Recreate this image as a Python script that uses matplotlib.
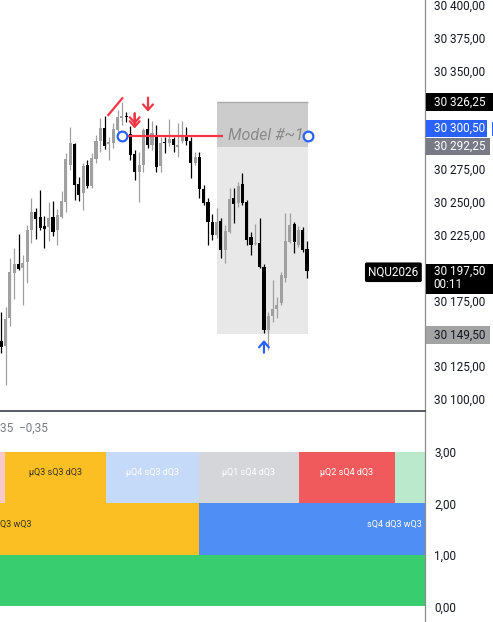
import matplotlib
matplotlib.use("Agg")
import matplotlib.pyplot as plt
import numpy as np
from matplotlib.patches import Rectangle
from matplotlib.transforms import blended_transform_factory

plt.rcParams['font.family'] = ['Roboto', 'DejaVu Sans']

# ---------------- data ----------------
opens = [30144.25, 30140.5, 30162, 30196.25, 30202.75, 30200, 30204, 30228.75, 30242.5, 30238.75,
         30231.75, 30230.75, 30238.75, 30228.75, 30238.75, 30249.75, 30278.25, 30294.25, 30263.75, 30256.5,
         30278.25, 30262.25, 30282.75, 30296.75, 30306.25, 30294, 30295.25, 30304.75, 30313.75, 30315,
         30301.75, 30286.25, 30272.75, 30278.25, 30305.5, 30293.5, 30301, 30277.5, 30295.5, 30295,
         30297.75, 30292.25, 30296.75, 30300, 30296.75, 30279.5, 30284, 30259.75, 30250.25, 30235,
         30225, 30235.5, 30213.5, 30227.5, 30252.75, 30249.5, 30263.75, 30249.75, 30223.5, 30218.25,
         30218.5, 30200.75, 30152.5, 30163.5, 30168.5, 30172.75, 30192, 30219.75, 30233, 30217.25,
         30228.75, 30214]
highs = [30166.5, 30170.25, 30207, 30215, 30225.5, 30209.75, 30232.5, 30252.75, 30245.75, 30259.25,
         30239.25, 30249.75, 30250.75, 30244.5, 30258.5, 30287, 30307.25, 30295, 30269.25, 30279.5,
         30282, 30287, 30301, 30313.75, 30315.5, 30299.75, 30310, 30320, 30326.25, 30318.75,
         30308, 30289.5, 30288, 30306.25, 30313.75, 30312, 30308.75, 30299.75, 30299.75, 30313,
         30299.75, 30310.25, 30311.75, 30307, 30299.5, 30288.25, 30288.25, 30263, 30253, 30240.75,
         30245.25, 30237.75, 30232.5, 30260.5, 30260.5, 30265.25, 30271.75, 30251.5, 30227.5, 30233,
         30238, 30202.75, 30166.5, 30190.5, 30178, 30196.75, 30241.5, 30241.5, 30234.75, 30231.75,
         30231.25, 30220.25]
lows = [30134.75, 30110.75, 30155.75, 30176, 30198.25, 30171.5, 30188, 30218.5, 30221.5, 30228.75,
        30215.25, 30220.25, 30224, 30217.25, 30237.75, 30242.5, 30274.25, 30251.5, 30251, 30244,
        30260.75, 30260.75, 30279.5, 30288.25, 30290, 30282, 30291, 30298.5, 30308.75, 30311.25,
        30282, 30266.75, 30250.25, 30273, 30291, 30289.5, 30273, 30273, 30287, 30292.75,
        30288.25, 30284, 30294.75, 30293.5, 30268, 30278.25, 30252.75, 30247.75, 30217.25, 30221,
        30222.5, 30207, 30203.25, 30226.5, 30233.75, 30246.5, 30247.75, 30217.25, 30209.75, 30217.25,
        30199.75, 30150, 30137.25, 30158.75, 30161.5, 30171.5, 30189.25, 30218.75, 30211, 30215.75,
        30212, 30192.25]
closes = [30139.75, 30161, 30197, 30202.75, 30199, 30203.75, 30228.75, 30242.5, 30237, 30230.5,
          30229.5, 30237.5, 30227.5, 30240, 30250.75, 30282.75, 30294.75, 30263, 30255.25, 30277.5,
          30262.25, 30283.25, 30296.75, 30306.25, 30292.75, 30296, 30305.25, 30314.5, 30315.5, 30314.5,
          30285.75, 30273, 30278.25, 30304.75, 30293.5, 30302.25, 30277, 30294.75, 30295, 30297.75,
          30293.5, 30293, 30300, 30296.75, 30279.5, 30284, 30259.75, 30249.5, 30235, 30225,
          30235, 30213.5, 30228.25, 30252.25, 30248.25, 30262.25, 30249, 30221, 30217.25, 30219,
          30200.75, 30152.5, 30163.25, 30168.5, 30171.5, 30194.5, 30220.25, 30232.5, 30219.75, 30228.75,
          30213.5, 30197.5]

symbol = "NQU2026"
countdown = "00:11"
last_price = 30197.50
level_price = 30300.50
box_top = 30326.25
box_mid = 30292.25
box_bottom = 30149.50
box_start, box_end = 50.0, 71.15
level_start, level_end = 28.0, 51.4
model_label = "Model #~1"
diag_x = [24.85, 28.1]
diag_y = [30316.25, 30329.0]
down_arrow = (34.07, 30329.5, 30318.75)
double_arrow = (30.98, 30317.5, 30306.0, 30309.0)
up_arrow = (61.0, 30135.25, 30144.9)
price_ticks = [30100, 30125, 30175, 30225, 30250, 30275, 30350, 30375, 30400]

top_edges = [-1.0, 0.86, 24.3, 45.9, 69.1, 91.4, 100.0]
top_labels = ['', 'μQ3 sQ3 dQ3', 'μQ4 sQ3 dQ3', 'μQ1 sQ4 dQ3', 'μQ2 sQ4 dQ3', '']
mid_edges = [-20.0, 45.9, 120.0]
mid_labels = ['Q3 wQ3', 'sQ4 dQ3 wQ3']
low_edges = [-20.0, 120.0]
pane_ticks = [0, 1, 2, 3]
pane_note = "35  \u22120,35"

# ---------------- style ----------------
UP = '#a0a0a0'
DOWN = '#000000'
RED = '#f23645'
BLUE = '#2962ff'
top_colors = ['#f8c9c9', '#fbbf24', '#c5d9f8', '#d4d6da', '#f05a5c', '#bbe9cc']
top_text = ['#333333', '#3a3220', 'white', 'white', 'white', 'white']
mid_colors = ['#fbbf24', '#4f8ef5']
mid_text = ['#3a3220', 'white']
low_colors = ['#38cd6f']

def fmt(v):
    s = "{:,.2f}".format(v)
    return s.replace(',', ' ').replace('.', ',')

W, H = 493, 622
fig = plt.figure(figsize=(W / 100, H / 100), dpi=100)
ax = fig.add_axes([0, 212 / H, 425 / W, 410 / H])
ax2 = fig.add_axes([0, 0, 425 / W, 211 / H], sharex=ax)

ymin, ymax = 30091.62, 30403.82
ax.set_ylim(ymin, ymax)
ax.set_xlim(-0.302, 98.4)
ppu = 410 / (ymax - ymin)

o = np.array(opens); h = np.array(highs); l = np.array(lows); c = np.array(closes)
x = np.arange(len(o))
up = c >= o
cols = np.where(up, UP, DOWN)
ax.vlines(x, l, h, colors=cols, linewidth=0.9, zorder=3)
ax.bar(x, np.maximum(np.abs(c - o), 0.8), bottom=np.minimum(o, c), width=0.72,
       color=cols, linewidth=0, zorder=4)

# model box
ax.add_patch(Rectangle((box_start, box_bottom), box_end - box_start, box_mid - box_bottom,
                       fc='#e8e8e8', ec='none', zorder=1))
ax.add_patch(Rectangle((box_start, box_mid), box_end - box_start, box_top - box_mid,
                       fc='#cccccc', ec='none', zorder=1))
ax.hlines(box_top, box_start, box_end, color='#a9a9a9', lw=1, zorder=1.5)

ax.hlines(level_price, level_start, level_end, color=RED, lw=1.6, zorder=5)
ax.text(52.6, level_price, model_label, style='italic', color='#8a8a8a', fontsize=11.5,
        va='center', ha='left', zorder=5)
ax.plot([level_start, box_end], [level_price, level_price], 'o', ms=7, mfc='white',
        mec=BLUE, mew=1.6, zorder=7)
ax.plot(diag_x, diag_y, color=RED, lw=1.6, zorder=6)

astyle = '->,head_length=0.4,head_width=0.35'
ax.annotate('', xy=(down_arrow[0], down_arrow[2]), xytext=(down_arrow[0], down_arrow[1]),
            arrowprops=dict(arrowstyle=astyle, color=RED, lw=1.6, shrinkA=0, shrinkB=0), zorder=6)
ax.annotate('', xy=(double_arrow[0], double_arrow[2]), xytext=(double_arrow[0], double_arrow[1]),
            arrowprops=dict(arrowstyle=astyle, color=RED, lw=1.6, shrinkA=0, shrinkB=0), zorder=6)
ax.annotate('', xy=(double_arrow[0], double_arrow[3]), xytext=(double_arrow[0], double_arrow[1]),
            arrowprops=dict(arrowstyle=astyle, color=RED, lw=1.6, shrinkA=0, shrinkB=0), zorder=6)
ax.annotate('', xy=(up_arrow[0], up_arrow[2]), xytext=(up_arrow[0], up_arrow[1]),
            arrowprops=dict(arrowstyle=astyle, color=BLUE, lw=1.6, shrinkA=0, shrinkB=0), zorder=6)

# axes styling
for a in (ax, ax2):
    for s in ('left', 'bottom', 'top'):
        a.spines[s].set_visible(False)
    a.spines['right'].set_color('#8c8c8c')
    a.spines['right'].set_linewidth(0.9)
    a.yaxis.tick_right()
    a.tick_params(axis='y', length=0, pad=6.5, labelsize=8.5, labelcolor='#131722')
    a.tick_params(axis='x', length=0, labelbottom=False)
ax2.spines['top'].set_visible(True)
ax2.spines['top'].set_color('#2a2e39')
ax2.spines['top'].set_linewidth(1.1)
ax.set_xticks([])
ax.set_yticks(price_ticks)
ax.set_yticklabels([fmt(v) for v in price_ticks])

# price tags
trans = blended_transform_factory(ax.transAxes, ax.transData)
def tag(center, text, fc, tc, x0=426.5, x1=490, hpx=17.5):
    hh = hpx / ppu
    ax.add_patch(Rectangle((x0 / 425, center - hh / 2), (x1 - x0) / 425, hh, transform=trans,
                           fc=fc, ec='none', clip_on=False, zorder=10))
    ax.text(433.5 / 425, center, text, transform=trans, color=tc, fontsize=8.5,
            va='center', ha='left', clip_on=False, zorder=11)

tag(box_top, fmt(box_top), '#000000', 'white', x1=493)
tag(level_price + 7 / ppu, fmt(level_price), BLUE, 'white', x1=487)
ax.add_patch(Rectangle((491.5 / 425, level_price - 0.5 / ppu), 2 / 425, 14 / ppu, transform=trans,
                       fc=BLUE, ec='none', clip_on=False, zorder=10))
tag(box_mid, fmt(box_mid), '#787b86', 'white')
tag(box_bottom - 1 / ppu, fmt(box_bottom), '#a3a3a3', '#131722')

# last price box
top_px = 264.3; bot_px = 294.3
ax.add_patch(Rectangle((426.5 / 425, last_price - (bot_px - 271) / ppu), (493 - 426.5) / 425,
                       (bot_px - top_px) / ppu, transform=trans, fc='#000000', ec='none',
                       clip_on=False, zorder=10))
ax.text(433.5 / 425, last_price, fmt(last_price), transform=trans, color='white', fontsize=8.5,
        va='center', ha='left', clip_on=False, zorder=11)
ax.text(433.5 / 425, last_price - 14 / ppu, countdown, transform=trans, color='white', fontsize=8.5,
        va='center', ha='left', clip_on=False, zorder=11)
ax.text(418.5 / 425, last_price - 1.3 / ppu, symbol, transform=trans, color='white', fontsize=8.5,
        va='center', ha='right', zorder=11,
        bbox=dict(boxstyle='round,pad=0.28,rounding_size=0.15', fc='#000000', ec='none'))

# lower pane
ax2.set_ylim(-0.301, 3.796)
for i in range(len(top_edges) - 1):
    ax2.add_patch(Rectangle((top_edges[i], 2), top_edges[i + 1] - top_edges[i], 1,
                            fc=top_colors[i], ec='none', zorder=1))
    if top_labels[i]:
        ax2.text((top_edges[i] + top_edges[i + 1]) / 2, 2.6, top_labels[i], color=top_text[i],
                 fontsize=6.5, ha='center', va='center', zorder=2)
for i in range(len(mid_edges) - 1):
    ax2.add_patch(Rectangle((mid_edges[i], 1), mid_edges[i + 1] - mid_edges[i], 1,
                            fc=mid_colors[i], ec='none', zorder=1))
ax2.text(-0.25, 1.6, mid_labels[0], color=mid_text[0], fontsize=6.5, ha='left', va='center',
         zorder=2)
ax2.text(97.7, 1.6, mid_labels[1], color=mid_text[1], fontsize=6.5, ha='right', va='center',
         zorder=2)
ax2.add_patch(Rectangle((low_edges[0], 0), low_edges[1] - low_edges[0], 1, fc=low_colors[0],
                        ec='none', zorder=1))
ax2.text(-0.302, 3.466, pane_note, color='#787b86', fontsize=8.5, ha='left', va='center')
ax2.set_yticks(pane_ticks)
ax2.set_yticklabels(["{:.2f}".format(v).replace('.', ',') for v in pane_ticks])

fig.savefig('out.png', dpi=100)
